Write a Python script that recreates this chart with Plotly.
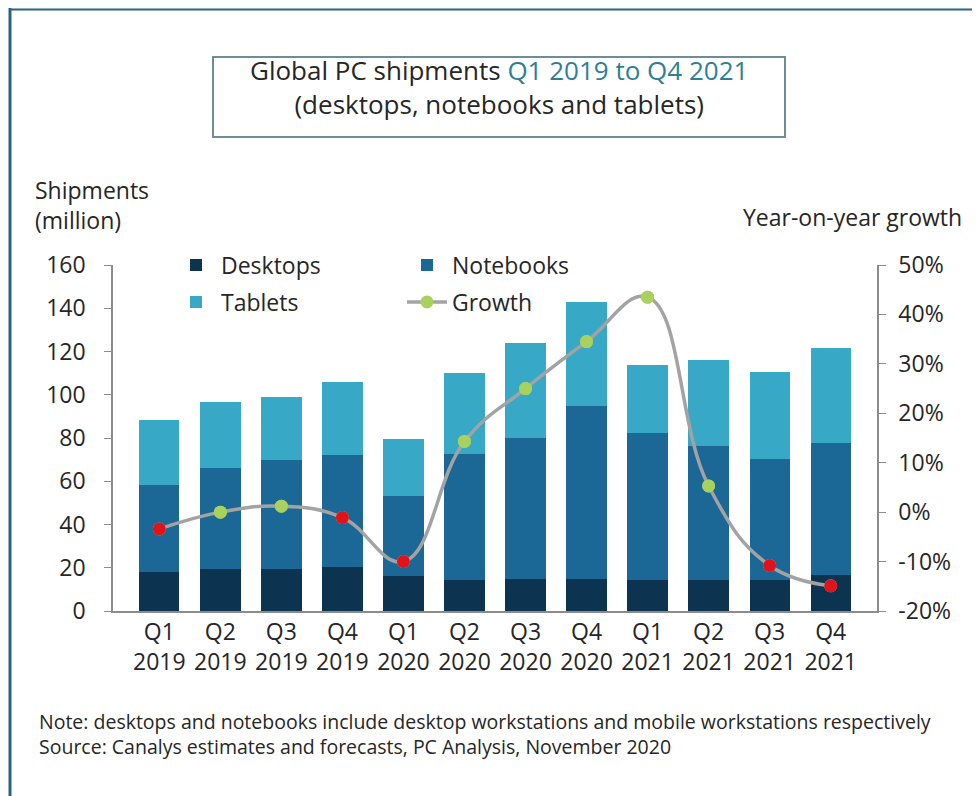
import plotly.graph_objects as go

quarters = ["Q1<br>2019", "Q2<br>2019", "Q3<br>2019", "Q4<br>2019",
            "Q1<br>2020", "Q2<br>2020", "Q3<br>2020", "Q4<br>2020",
            "Q1<br>2021", "Q2<br>2021", "Q3<br>2021", "Q4<br>2021"]
desktops = [17.9, 19.6, 19.6, 20.4, 16.1, 14.2, 15.0, 15.0, 14.2, 14.2, 14.2, 16.5]
notebooks = [40.2, 46.6, 50.2, 51.6, 37.0, 58.2, 64.8, 80.0, 68.3, 62.1, 56.2, 61.3]
tablets = [30.2, 30.3, 29.3, 33.9, 26.3, 37.6, 44.0, 47.8, 31.3, 39.8, 40.3, 43.7]
growth = [-3.4, 0.0, 1.2, -1.1, -10.0, 14.3, 25.0, 34.5, 43.5, 5.3, -10.8, -14.9]

left_ticks = [0, 20, 40, 60, 80, 100, 120, 140, 160]
right_ticks = [-20, -10, 0, 10, 20, 30, 40, 50]
right_labels = [f"{v}%" for v in right_ticks]

C_DESK = "#0c3350"
C_NOTE = "#1b6896"
C_TAB = "#37a9c6"
C_POS = "#a8d15e"
C_NEG = "#e0121c"
AX = "#8c8c8c"
TXT = "#262626"
FONT = "Open Sans"
FRAME = "#2b6382"

# page body has an 8px margin; figure is sized so the plot area lands at page x 113..877, y 265..611
W, H = 972, 788
PL, PR, PT, PB = 113, 877, 265, 611
PW, PH = PR - PL, PB - PT


def px(xp):
    return (xp - PL) / PW


def py(yp):
    return (PB - yp) / PH


fig = go.Figure()
fig.add_trace(go.Bar(x=quarters, y=desktops, name="Desktops", marker_color=C_DESK,
                     marker_line_width=0, legend="legend"))
fig.add_trace(go.Bar(x=quarters, y=notebooks, name="Notebooks", marker_color=C_NOTE,
                     marker_line_width=0, legend="legend"))
fig.add_trace(go.Bar(x=quarters, y=tablets, name="Tablets", marker_color=C_TAB,
                     marker_line_width=0, legend="legend2"))
fig.add_trace(go.Scatter(x=quarters, y=growth, name="Growth", yaxis="y2",
                         mode="lines+markers",
                         line=dict(color="#a3a3a3", width=3.5, shape="spline", smoothing=1.2),
                         marker=dict(color=C_POS, size=13), legend="legend2"))
fig.add_trace(go.Scatter(x=quarters, y=growth, yaxis="y2", mode="markers", showlegend=False,
                         marker=dict(color=[C_NEG if g < 0 else C_POS for g in growth], size=13,
                                     line=dict(width=0))))

leg_common = dict(orientation="h", xanchor="left", yanchor="middle", traceorder="normal",
                  entrywidth=176, entrywidthmode="pixels", bgcolor="rgba(0,0,0,0)",
                  font=dict(size=23, color=TXT), itemwidth=40, tracegroupgap=0)

fig.update_layout(
    width=W, height=H,
    margin=dict(l=PL - 8, r=W + 8 - PR, t=PT - 8, b=H + 8 - PB),
    paper_bgcolor="white", plot_bgcolor="white",
    barmode="stack", bargap=0.34,
    font=dict(family=FONT, size=23, color=TXT),
    xaxis=dict(showline=True, linecolor=AX, linewidth=1.5, ticks="", showgrid=False,
               tickfont=dict(size=23, color=TXT), fixedrange=True),
    yaxis=dict(range=[0, 160], tickvals=left_ticks, showline=True, linecolor=AX, linewidth=1.5,
               ticks="outside", ticklen=7, tickcolor=AX, showgrid=False, zeroline=False,
               tickfont=dict(size=23, color=TXT), ticklabelstandoff=14),
    yaxis2=dict(range=[-20, 50], tickvals=right_ticks, ticktext=right_labels, overlaying="y", side="right",
                showline=True, linecolor=AX, linewidth=1.5, ticks="outside", ticklen=7, tickcolor=AX,
                showgrid=False, zeroline=False, tickfont=dict(size=23, color=TXT), ticklabelstandoff=8),
    legend=dict(x=px(171), y=py(265), **leg_common),
    legend2=dict(x=px(171), y=py(302), **leg_common),
    showlegend=True,
    shapes=[
        dict(type="line", xref="paper", yref="paper", x0=px(10), x1=px(10), y0=py(796), y1=py(8),
             line=dict(color=FRAME, width=3)),
        dict(type="line", xref="paper", yref="paper", x0=px(9), x1=px(980), y0=py(9.5), y1=py(9.5),
             line=dict(color=FRAME, width=2)),
        dict(type="rect", xref="paper", yref="paper", x0=px(213), x1=px(785), y0=py(137), y1=py(57),
             line=dict(color="#6f8d99", width=2), fillcolor="rgba(0,0,0,0)"),
    ],
)

fig.add_annotation(xref="paper", yref="paper", x=px(499), y=py(87), xanchor="center", yanchor="middle",
                   text="Global PC shipments <span style='color:#2e7f96'>Q1 2019 to Q4 2021</span><br>"
                        "(desktops, notebooks and tablets)",
                   align="center", showarrow=False, font=dict(size=26, color=TXT, family=FONT))
fig.add_annotation(xref="paper", yref="paper", x=px(33), y=py(172), xanchor="left", yanchor="top",
                   text="Shipments<br>(million)", align="left", showarrow=False,
                   font=dict(size=23, color=TXT))
fig.add_annotation(xref="paper", yref="paper", x=px(964), y=py(217), xanchor="right", yanchor="middle",
                   text="Year-on-year growth", showarrow=False, font=dict(size=23, color=TXT))
fig.add_annotation(xref="paper", yref="paper", x=px(37), y=py(706), xanchor="left", yanchor="top",
                   text="Note: desktops and notebooks include desktop workstations and mobile workstations respectively<br>"
                        "Source: Canalys estimates and forecasts, PC Analysis, November 2020",
                   align="left", showarrow=False,
                   font=dict(size=19.5, color=TXT, family=FONT))

fig.write_html("out.html")
